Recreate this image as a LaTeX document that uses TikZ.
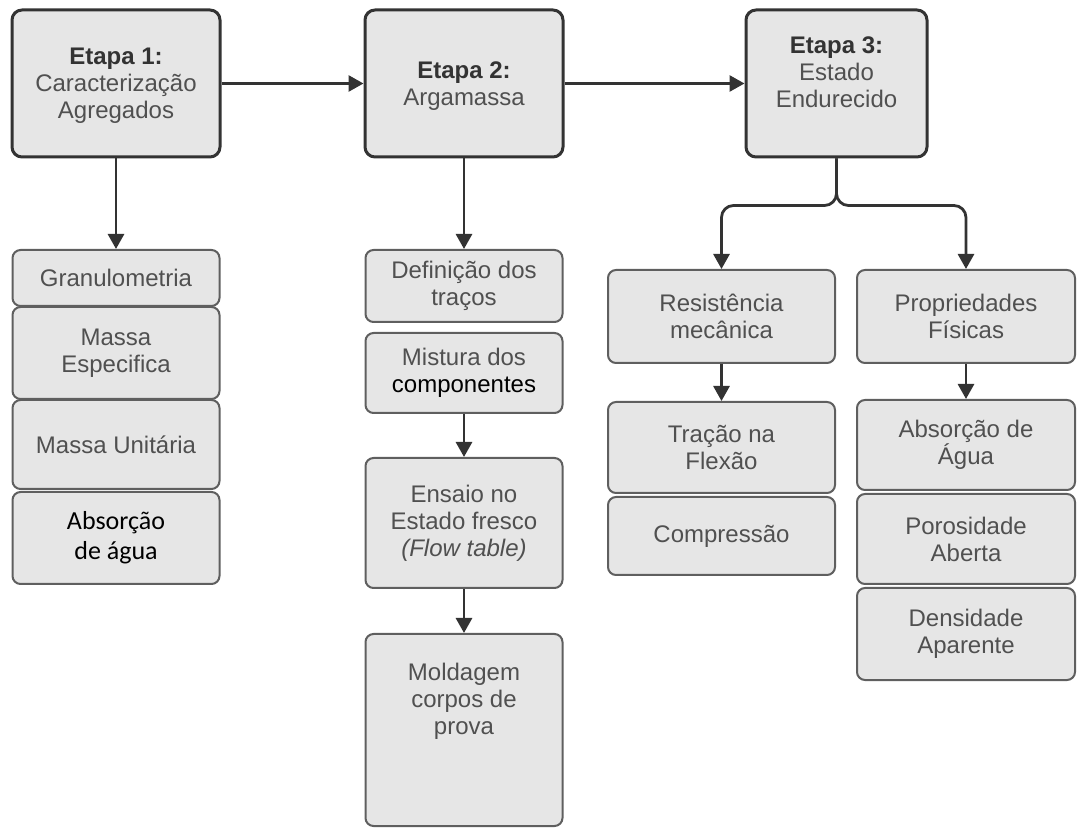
\documentclass[tikz,border=0pt]{standalone}
\usepackage{fontspec}
\setmainfont{Liberation Sans}
\newfontfamily\calibrifont{Carlito}
\usepackage{tikz}
\usetikzlibrary{arrows.meta, positioning}
\definecolor{boxfill}{RGB}{230,230,230}
\definecolor{boxedge}{RGB}{95,95,95}
\definecolor{darkline}{RGB}{51,51,51}
\definecolor{txtgray}{RGB}{80,80,80}

\tikzset{
  etapa/.style={draw=darkline, line width=1.5pt, fill=boxfill, rounded corners=5pt,
    align=center, text=txtgray, font=\fontsize{12}{13.5}\selectfont, inner sep=2pt},
  item/.style={draw=boxedge, line width=1pt, fill=boxfill, rounded corners=4pt,
    align=center, text=txtgray, font=\fontsize{12}{13.5}\selectfont, inner sep=2pt},
  seta/.style={darkline, line width=1.4pt, -{Triangle[width=8pt,length=7.5pt]}}
}

\begin{document}
\begin{tikzpicture}[x=0.5pt, y=-0.5pt]
    \useasboundingbox (0,0) rectangle (1077,828);

    % Etapas
    \node[etapa, minimum width=104pt, minimum height=73.5pt, text depth=-3pt] (e1) at (116,83.5)
        {\textbf{\color{darkline}Etapa 1:}\\Caracterização\\Agregados};
    \node[etapa, minimum width=99pt, minimum height=73.5pt, text depth=-1pt] (e2) at (464,83.5)
        {\textbf{\color{darkline}Etapa 2:}\\Argamassa};
    \node[etapa, minimum width=90.5pt, minimum height=73.5pt, text depth=11pt] (e3) at (836.5,83.5)
        {\textbf{\color{darkline}Etapa 3:}\\Estado\\Endurecido};

    % Etapa 1 - agregados
    \node[item, minimum width=103.5pt, minimum height=28pt] (gran) at (116,278) {Granulometria};
    \node[item, minimum width=103.5pt, minimum height=46pt] (mesp) at (116,353) {Massa\\Especifica};
    \node[item, minimum width=103.5pt, minimum height=44.5pt] (muni) at (116,444.5) {Massa Unitária};
    \node[item, minimum width=103.5pt, minimum height=46pt, text=black,
        font=\calibrifont\fontsize{13}{15}\selectfont] (absag1) at (116,538) {Absorção\\de água};

    % Etapa 2 - argamassa
    \node[item, minimum width=98.5pt, minimum height=36pt] (def) at (464,286) {Definição dos\\traços};
    \node[item, minimum width=98.5pt, minimum height=40pt] (mist) at (464,373)
        {Mistura dos\\{\color{black}componentes}};
    \node[item, minimum width=98.5pt, minimum height=65pt] (ensaio) at (464,523)
        {Ensaio no\\Estado fresco\\\textit{(Flow table)}};
    \node[item, minimum width=98.5pt, minimum height=96pt, text depth=31pt] (mold) at (464,730)
        {Moldagem\\corpos de\\prova};

    % Etapa 3 - estado endurecido
    \node[item, minimum width=113.5pt, minimum height=46.5pt] (res) at (721.5,316.5)
        {Resistência\\mecânica};
    \node[item, minimum width=113.5pt, minimum height=45.5pt] (trac) at (721.5,447.5)
        {Tração na\\Flexão};
    \node[item, minimum width=113.5pt, minimum height=39pt] (comp) at (721.5,536) {Compressão};

    \node[item, minimum width=109pt, minimum height=46.5pt] (prop) at (966,316.5)
        {Propriedades\\Físicas};
    \node[item, minimum width=109pt, minimum height=45pt] (absag) at (966,445)
        {Absorção de\\Água};
    \node[item, minimum width=109pt, minimum height=45pt] (poro) at (966,539)
        {Porosidade\\Aberta};
    \node[item, minimum width=109pt, minimum height=46pt] (dens) at (966,634)
        {Densidade\\Aparente};

    % Conectores
    \draw[seta] (e1) -- (e2);
    \draw[seta] (e2) -- (e3);
    \draw[seta] (e1) -- (gran);
    \draw[seta] (e2) -- (def);
    \draw[seta] (mist) -- (ensaio);
    \draw[seta] (ensaio) -- (mold);
    \draw[seta, rounded corners=6pt] (e3.south) -- ++(0,47) -| (res.north);
    \draw[seta, rounded corners=6pt] (e3.south) -- ++(0,47) -| (prop.north);
    \draw[seta] (res) -- (trac);
    \draw[seta] (prop) -- (absag);
\end{tikzpicture}
\end{document}
